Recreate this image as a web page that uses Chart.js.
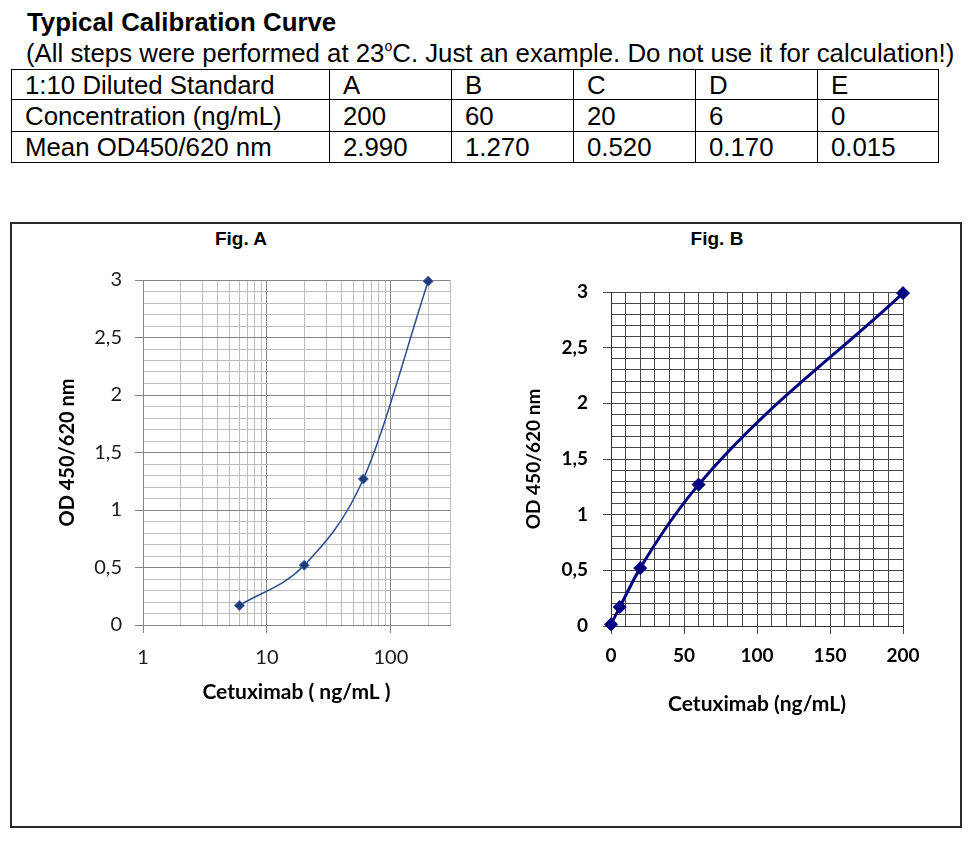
<!DOCTYPE html>
<html><head><meta charset="utf-8">
<script src="https://cdn.jsdelivr.net/npm/chart.js@4.4.1/dist/chart.umd.min.js"></script>
<style>
body{margin:0;background:#fff;width:980px;height:843px;position:relative;overflow:hidden;font-family:"Liberation Sans",Arial,sans-serif;color:#000}
#title{position:absolute;left:27px;top:7px;font-weight:bold;font-size:25.8px;line-height:30px;white-space:nowrap}
#subtitle{position:absolute;left:26px;top:38px;font-size:25.8px;line-height:30px;white-space:nowrap}
#tbl{position:absolute;left:11px;top:69px;border-collapse:collapse;font-size:25.8px;table-layout:fixed}
#tbl td{border:1.5px solid #000;padding:0 0 0 13px;line-height:26px;white-space:nowrap;vertical-align:middle}
#box{position:absolute;left:10px;top:222px;width:948px;height:602px;border:2px solid #2a2a2a}
.fig{position:absolute;top:228px;font-weight:bold;font-size:19px;width:120px;text-align:center}
canvas{position:absolute}
</style></head>
<body>
<div id="title">Typical Calibration Curve</div>
<div id="subtitle">(All steps were performed at 23<sup style="font-size:14px;vertical-align:11px;line-height:0">o</sup>C. Just an example. Do not use it for calculation!)</div>
<table id="tbl"><colgroup><col style="width:318px"><col style="width:122px"><col style="width:122px"><col style="width:122px"><col style="width:122px"><col style="width:121px"></colgroup><tbody id="tb"></tbody></table>
<div id="box"></div>
<div class="fig" style="left:181px">Fig. A</div>
<div class="fig" style="left:657px">Fig. B</div>
<canvas id="cA" width="440" height="470" style="left:30px;top:255px"></canvas>
<canvas id="cB" width="430" height="460" style="left:505px;top:265px"></canvas>
<script>
const rowLabels = ['1:10 Diluted Standard', 'Concentration (ng/mL)', 'Mean OD450/620 nm'];
const standards = ['A', 'B', 'C', 'D', 'E'];
const concentrations = [200, 60, 20, 6, 0];
const meanOD = [2.990, 1.270, 0.520, 0.170, 0.015];
const logTickLabels = [1, 10, 100];
const odTickLabels = [0, 0.5, 1, 1.5, 2, 2.5, 3];
const linTickLabels = [0, 50, 100, 150, 200];

// table
const rowHeights = [30, 32, 31];
const rows = [standards, concentrations.map(String), meanOD.map(v => v.toFixed(3))];
const tb = document.getElementById('tb');
rows.forEach((r, i) => {
  const tr = document.createElement('tr');
  tr.style.height = rowHeights[i] + 'px';
  [rowLabels[i]].concat(r).forEach(t => { const td = document.createElement('td'); td.textContent = t; tr.appendChild(td); });
  tb.appendChild(tr);
});

const near = (v, arr) => arr.some(a => Math.abs(a - v) < 1e-6);
const comma = v => String(Math.round(v * 10) / 10).replace('.', ',');

// log grid: 1..9, 10..90, 100, 200, 300
const logGrid = [];
[1, 10, 100].forEach(d => { for (let s = 1; s <= 9; s++) { const v = s * d; if (v <= 300) logGrid.push(v); } });

const ptsA = concentrations.map((c, i) => ({x: c, y: meanOD[i]})).filter(p => p.x > 0);
const ptsB = concentrations.map((c, i) => ({x: c, y: meanOD[i]}));

const majA = '#858585', minA = '#bdbdbd';
new Chart(document.getElementById('cA'), {
  type: 'scatter',
  data: {datasets: [{data: ptsA, showLine: true, clip: false, borderColor: '#2c4d8e', borderWidth: 1.5,
    cubicInterpolationMode: 'monotone', pointStyle: 'rectRot', pointRadius: 5,
    pointBackgroundColor: '#1f3d7a', pointBorderColor: '#4669ad', pointBorderWidth: 1}]},
  options: {
    responsive: false, animation: false, events: [],
    layout: {padding: {top: 23, right: 20, left: 0, bottom: 0}},
    plugins: {legend: {display: false}, tooltip: {enabled: false}},
    scales: {
      x: {type: 'logarithmic', min: 1, max: 300,
        afterBuildTicks: s => { s.ticks = logGrid.map(v => ({value: v})); },
        afterFit: s => { s.height = 100; },
        grid: {color: c => (c.tick && near(c.tick.value, logTickLabels)) ? majA : minA,
               tickColor: c => (c.tick && near(c.tick.value, logTickLabels)) ? majA : 'rgba(0,0,0,0)',
               tickLength: 8, lineWidth: 1},
        border: {color: majA},
        ticks: {autoSkip: false, maxRotation: 0, padding: 13, color: '#1a1a1a', font: {family: 'Lato', size: 20},
                callback: v => near(v, logTickLabels) ? String(v) : ''},
        title: {display: true, text: 'Cetuximab ( ng/mL )', color: '#000', font: {family: 'Lato', size: 21, weight: 'bold'}, padding: {top: 0, bottom: 20}}
      },
      y: {min: 0, max: 3,
        afterFit: s => { s.width = 113; },
        grid: {color: c => (c.tick && near(c.tick.value, odTickLabels)) ? majA : minA,
               tickColor: c => (c.tick && near(c.tick.value, odTickLabels)) ? majA : 'rgba(0,0,0,0)',
               tickLength: 8, lineWidth: 1},
        border: {color: majA},
        ticks: {stepSize: 0.1, autoSkip: false, padding: 13, color: '#1a1a1a', font: {family: 'Lato', size: 20},
                callback: v => near(v, odTickLabels) ? comma(v) : ''},
        title: {display: true, text: 'OD 450/620 nm', color: '#000', font: {family: 'Lato', size: 20, weight: 'bold'}, padding: {top: 26, bottom: 0}}
      }
    }
  }
});

const gB = '#474747';
new Chart(document.getElementById('cB'), {
  type: 'scatter',
  data: {datasets: [{data: ptsB, showLine: true, clip: false, borderColor: '#000080', borderWidth: 3,
    cubicInterpolationMode: 'monotone', pointStyle: 'rectRot', pointRadius: 6.5,
    pointBackgroundColor: '#000080', pointBorderColor: '#000080', pointBorderWidth: 1}]},
  options: {
    responsive: false, animation: false, events: [],
    layout: {padding: {top: 27, right: 32, left: 0, bottom: 0}},
    plugins: {legend: {display: false}, tooltip: {enabled: false}},
    scales: {
      x: {type: 'linear', min: 0, max: 200,
        afterFit: s => { s.height = 99; },
        grid: {color: gB, tickColor: c => (c.tick && near(c.tick.value, linTickLabels)) ? gB : 'rgba(0,0,0,0)', tickLength: 8, lineWidth: 1},
        border: {color: '#333'},
        ticks: {stepSize: 10, autoSkip: false, maxRotation: 0, padding: 10, color: '#000', font: {family: 'Lato', size: 19, weight: 'bold'},
                callback: v => near(v, linTickLabels) ? String(v) : ''},
        title: {display: true, text: 'Cetuximab (ng/mL)', color: '#000', font: {family: 'Lato', size: 21, weight: 'bold'}, padding: {top: 0, bottom: 8}}
      },
      y: {min: 0, max: 3,
        afterFit: s => { s.width = 106; },
        grid: {color: gB, tickColor: c => (c.tick && near(c.tick.value, odTickLabels)) ? gB : 'rgba(0,0,0,0)', tickLength: 8, lineWidth: 1},
        border: {color: '#333'},
        ticks: {stepSize: 0.1, autoSkip: false, padding: 15, color: '#000', font: {family: 'Lato', size: 19, weight: 'bold'},
                callback: v => near(v, odTickLabels) ? comma(v) : ''},
        title: {display: true, text: 'OD 450/620 nm', color: '#000', font: {family: 'Lato', size: 19, weight: 'bold'}, padding: {top: 17, bottom: 0}}
      }
    }
  }
});
</script>
</body></html>
